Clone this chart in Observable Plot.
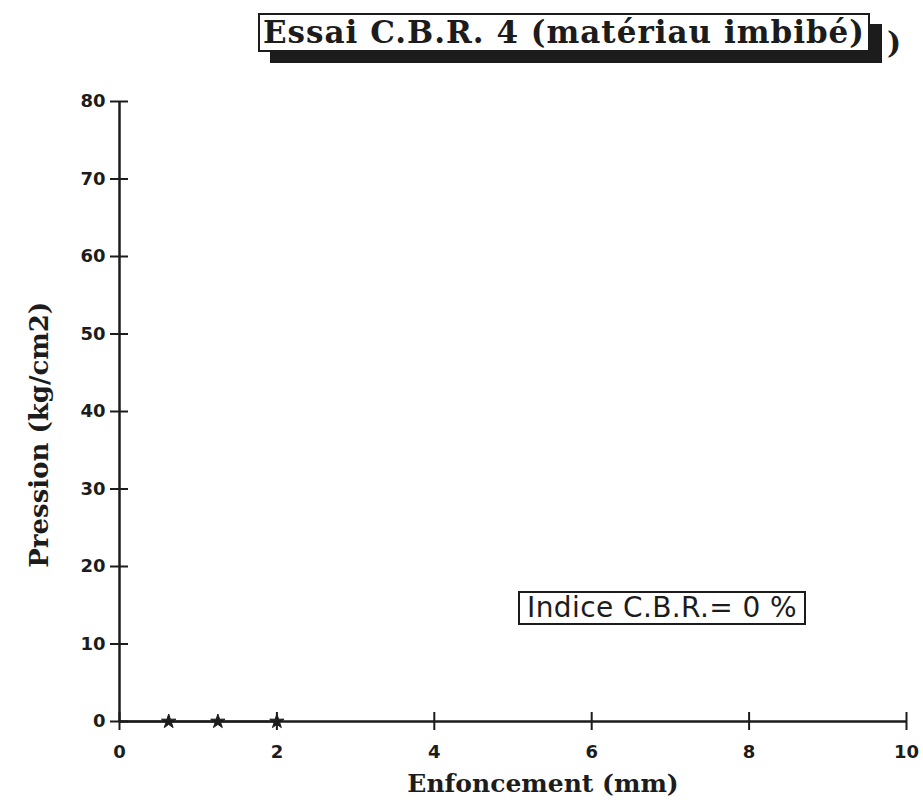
<!DOCTYPE html>
<html>
<head>
<meta charset="utf-8">
<script src="https://cdn.jsdelivr.net/npm/d3@7"></script>
<script src="https://cdn.jsdelivr.net/npm/@observablehq/plot@0.6"></script>
<style>
  html, body { margin: 0; padding: 0; background: #ffffff; }
  #wrap { position: relative; width: 923px; height: 800px; overflow: hidden; }
  #top { position: relative; height: 80px; }
  #titlebox {
    position: absolute; left: 258px; top: 13px; width: 608px; height: 35px;
    border: 2.5px solid #1c1c1c; background: #fff;
    box-shadow: 12px 11px 0 #1c1c1c;
    font-family: "DejaVu Serif", serif; font-weight: bold; font-size: 31px;
    line-height: 35px; color: #1c1c1c; white-space: nowrap; text-align: center;
    letter-spacing: 1px;
  }
  #stray { position: absolute; left: 887px; top: 25px; font-family: "DejaVu Serif", serif;
    font-weight: bold; font-size: 30px; color: #1c1c1c; }
  #indice {
    position: absolute; left: 518px; top: 591px; width: 284px; height: 30px;
    border: 2px solid #1c1c1c; background: #fff;
    font-family: "DejaVu Sans", sans-serif; font-size: 28px; line-height: 30px;
    color: #1c1c1c; white-space: nowrap; text-align: center; letter-spacing: 0.4px;
  }
  svg { display: block; }
</style>
</head>
<body>
<div id="wrap">
  <div id="top">
    <div id="titlebox">Essai C.B.R. 4 (matériau imbibé)</div>
    <div id="stray">)</div>
  </div>
  <div id="chart"></div>
  <div id="indice">Indice C.B.R.= 0 %</div>
</div>
<script>
// Data
const enfoncement = [0, 0.625, 1.25, 2];      // mm
const pression    = [0, 0, 0, 0];             // kg/cm2
const xTicks = [0, 2, 4, 6, 8, 10];
const yTicks = [0, 10, 20, 30, 40, 50, 60, 70, 80];
const xLabel = "Enfoncement (mm)";
const yLabel = "Pression (kg/cm2)";

const points = enfoncement.map((x, i) => ({x, y: pression[i]}));
const ink = "#1c1c1c";

const plot = Plot.plot({
  width: 923,
  height: 720,
  marginTop: 21,
  marginBottom: 79,
  marginLeft: 119,
  marginRight: 17,
  style: {background: "transparent", color: ink},
  x: {domain: [0, 10], axis: null},
  y: {domain: [0, 80], axis: null},
  marks: [
    // axis lines
    Plot.ruleX([0], {y1: 0, y2: 80, stroke: ink, strokeWidth: 2.5}),
    Plot.ruleY([0], {x1: 0, x2: 10, stroke: ink, strokeWidth: 2.5}),
    // crossing ticks
    Plot.ruleY(yTicks, {y: d => d, x1: 0, x2: 0, insetLeft: -9, insetRight: -9, stroke: ink, strokeWidth: 2}),
    Plot.ruleX(xTicks, {x: d => d, y1: 0, y2: 0, insetTop: -9, insetBottom: -9, stroke: ink, strokeWidth: 2}),
    // tick labels
    Plot.text(yTicks, {x: 0, y: d => d, text: d => String(d), dx: -14, textAnchor: "end",
      lineAnchor: "middle", fontSize: 18, fontWeight: "bold", fontFamily: "DejaVu Sans", fill: ink}),
    Plot.text(xTicks, {x: d => d, y: 0, text: d => String(d), dy: 31, textAnchor: "middle",
      lineAnchor: "middle", fontSize: 18, fontWeight: "bold", fontFamily: "DejaVu Sans", fill: ink}),
    // axis titles
    Plot.text([xLabel], {frameAnchor: "bottom", text: d => d, dx: 30, dy: 62,
      textAnchor: "middle", lineAnchor: "middle",
      fontSize: 25, fontWeight: "bold", fontFamily: "DejaVu Serif", fill: ink}),
    Plot.text([yLabel], {frameAnchor: "left", y: [37], text: d => d, dx: -80, rotate: -90,
      textAnchor: "middle", lineAnchor: "middle",
      fontSize: 26, fontWeight: "bold", fontFamily: "DejaVu Serif", fill: ink}),
    // data curve
    Plot.line(points, {x: "x", y: "y", stroke: ink, strokeWidth: 2}),
    Plot.dot(points.filter(d => d.x > 0), {x: "x", y: "y", symbol: "star", r: 4.5, fill: ink, stroke: ink, strokeWidth: 1})
  ]
});
document.getElementById("chart").appendChild(plot);
</script>
</body>
</html>
